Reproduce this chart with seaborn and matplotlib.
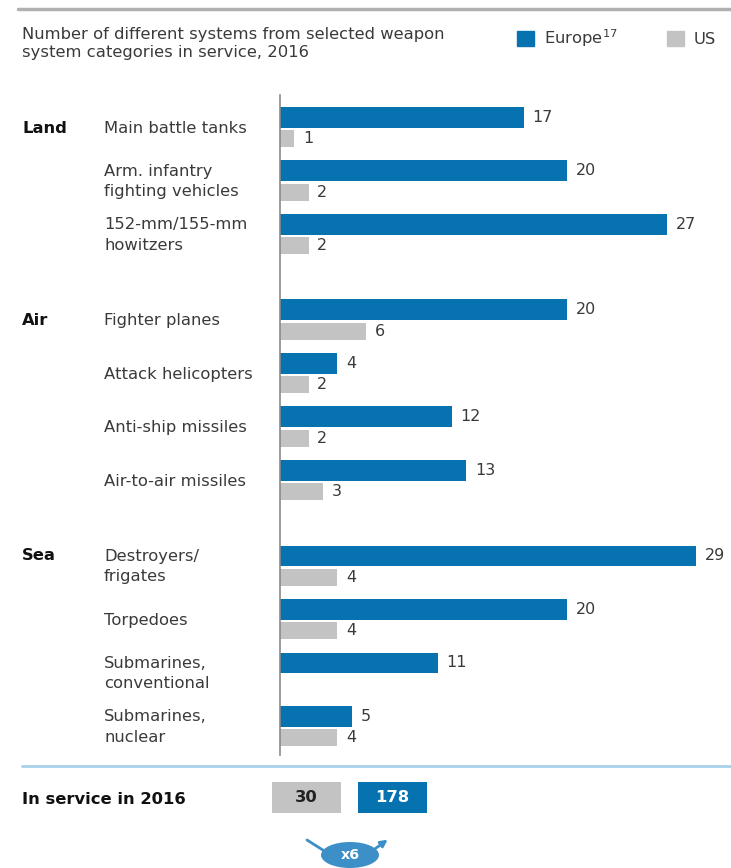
import numpy as np
import pandas as pd
import seaborn as sns
import matplotlib.pyplot as plt
from matplotlib.patches import Patch, Rectangle, Ellipse, FancyArrowPatch
from matplotlib.lines import Line2D
from matplotlib.transforms import blended_transform_factory

# data
groups = ["Land", "Air", "Sea"]
group_sizes = [3, 4, 4]
systems = ["Main battle tanks", "Arm. infantry\nfighting vehicles", "152-mm/155-mm\nhowitzers",
           "Fighter planes", "Attack helicopters", "Anti-ship missiles", "Air-to-air missiles",
           "Destroyers/\nfrigates", "Torpedoes", "Submarines,\nconventional", "Submarines,\nnuclear"]
europe = [17, 20, 27, 20, 4, 12, 13, 29, 20, 11, 5]
us = [1, 2, 2, 6, 2, 2, 3, 4, 4, 0, 4]

BLUE = "#0672b0"
GREY = "#c3c3c3"
TEXT = "#3a3a3a"

sns.set_theme(style="white")
plt.rcParams["font.family"] = ["DejaVu Sans"]
FS = 11.8

# row positions, with a gap between the groups
GAP = 0.6
group_idx = np.repeat(np.arange(len(groups)), group_sizes)
pos = np.arange(len(systems)) + group_idx * GAP
OFF = 0.2

df = pd.DataFrame({"system": systems, "group": [groups[g] for g in group_idx],
                   "pos": pos, "Europe": europe, "US": us})
df["pos_eu"] = df["pos"] - OFF
df["pos_us"] = df["pos"] + OFF

fig = plt.figure(figsize=(7.31, 8.68), dpi=100)
ax = fig.add_axes([280 / 731, 1 - 755 / 868, 451 / 731, 660 / 868])

sns.barplot(data=df, x="Europe", y="pos_eu", orient="y", native_scale=True,
            color=BLUE, saturation=1, width=0.39, linewidth=0, errorbar=None, ax=ax)
sns.barplot(data=df, x="US", y="pos_us", orient="y", native_scale=True,
            color=GREY, saturation=1, width=0.32, linewidth=0, errorbar=None, ax=ax)

ax.set_xlim(0, 451 / 14.34)
ax.set_ylim(11.72, -0.617)
ax.set_xticks([])
ax.set_yticks([])
ax.set_xlabel("")
ax.set_ylabel("")
sns.despine(ax=ax, left=False, bottom=True)
ax.spines["left"].set_color("#8a8a8a")
ax.spines["left"].set_linewidth(1.2)

# value labels
for _, r in df.iterrows():
    ax.text(r["Europe"] + 0.6, r["pos_eu"], str(r["Europe"]), va="center", ha="left",
            fontsize=11.5, color=TEXT)
    if r["US"] > 0:
        ax.text(r["US"] + 0.6, r["pos_us"], str(r["US"]), va="center", ha="left",
                fontsize=11.5, color=TEXT)

# row and group labels
tr = blended_transform_factory(fig.transFigure, ax.transData)
for i, r in df.iterrows():
    ax.text(104 / 731, r["pos"], r["system"], transform=tr, ha="left", va="center",
            fontsize=FS, color=TEXT, linespacing=1.45)
    if i == 0 or group_idx[i] != group_idx[i - 1]:
        nlines = r["system"].count("\n")
        ax.text(22 / 731, r["pos"] - nlines * 0.2, r["group"], transform=tr, ha="left",
                va="center", fontsize=FS, color="#111111", fontweight="bold")

# title and legend
fig.text(22 / 731, 1 - 43 / 868, "Number of different systems from selected weapon\n"
         "system categories in service, 2016", ha="left", va="center", fontsize=FS,
         color=TEXT, linespacing=1.25)
fig.add_artist(Line2D([18 / 731, 1], [1 - 9 / 868] * 2, color="#b0b0b0", lw=2.5))
handles = [Patch(color=BLUE, label="Europe$^{17}$"), Patch(color=GREY, label="US")]
fig.legend(handles=handles, loc="center left", bbox_to_anchor=(502 / 731, 1 - 38 / 868),
           ncol=2, frameon=False, fontsize=FS, handlelength=1.05, handleheight=1.05,
           columnspacing=3.0, handletextpad=0.6, labelcolor=TEXT)

# totals at the bottom
fig.add_artist(Line2D([22 / 731, 1], [1 - 766 / 868] * 2, color="#a8d0e8", lw=2))
fig.text(22 / 731, 1 - 799 / 868, "In service in 2016", ha="left", va="center",
         fontsize=FS, fontweight="bold", color="#111111")
tot_us, tot_eu = int(sum(us)), int(sum(europe))
for x0, col, val, tcol in [(272, GREY, tot_us, "#222222"), (358, BLUE, tot_eu, "white")]:
    fig.add_artist(Rectangle((x0 / 731, 1 - 813 / 868), 69 / 731, 31 / 868,
                             transform=fig.transFigure, color=col, lw=0))
    fig.text((x0 + 34.5) / 731, 1 - 797 / 868, str(val), ha="center", va="center",
             fontsize=FS, fontweight="bold", color=tcol)

fig.add_artist(Line2D([307 / 731, 326 / 731], [1 - 840 / 868, 1 - 852 / 868],
                      color="#3d8fc7", lw=2))
fig.add_artist(FancyArrowPatch((372 / 731, 1 - 851 / 868), (390 / 731, 1 - 838 / 868),
                               transform=fig.transFigure, arrowstyle="-|>",
                               mutation_scale=10, color="#3d8fc7", lw=2))
fig.add_artist(Ellipse((350 / 731, 1 - 855 / 868), 58 / 731, 26 / 868,
                       transform=fig.transFigure, color="#3d8fc7", lw=0))
fig.text(350 / 731, 1 - 855 / 868, f"x{round(tot_eu / tot_us)}", ha="center", va="center",
         fontsize=FS - 1.5, fontweight="bold", color="white")

fig.savefig("out.png", dpi=100)
